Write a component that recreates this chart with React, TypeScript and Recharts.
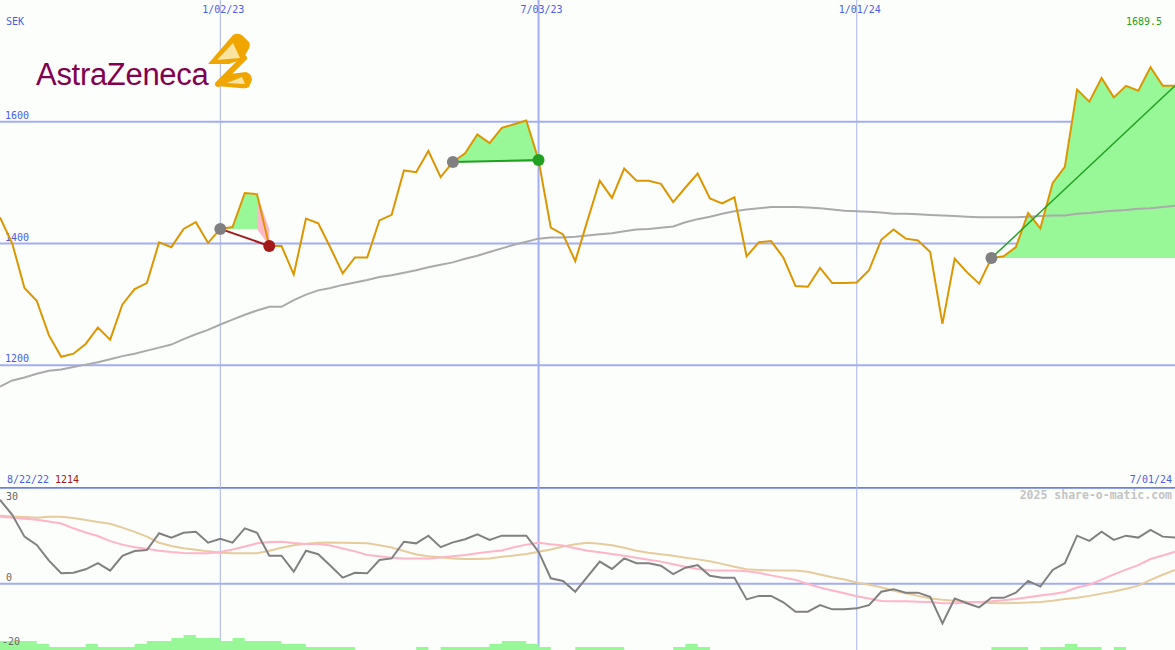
import React from 'react';
import { ComposedChart, Line, Area, XAxis, YAxis, ReferenceLine } from 'recharts';

// ---- weekly closes (SEK), index 0 = first week shown ----
const price = [
  1443, 1400, 1327, 1306, 1249, 1214, 1219, 1235, 1262, 1242,
  1300, 1325, 1335, 1402, 1394, 1424, 1435, 1401, 1424, 1427,
  1483, 1481, 1396, 1396, 1349, 1441, 1433, 1393, 1351, 1377,
  1377, 1438, 1447, 1520, 1517, 1552, 1509, 1534, 1548, 1579,
  1565, 1590, 1596, 1602, 1537, 1426, 1415, 1371, 1438, 1503,
  1475, 1523, 1503, 1503, 1498, 1468, 1492, 1515, 1474, 1466,
  1476, 1379, 1402, 1404, 1377, 1330, 1329, 1360, 1335, 1335,
  1336, 1356, 1406, 1423, 1408, 1405, 1386, 1268, 1375, 1353,
  1334, 1376, 1379, 1394, 1450, 1425, 1499, 1526, 1653, 1633,
  1672, 1640, 1659, 1651, 1689.5, 1659, 1659,
];

// long moving average
const movingAvg = [
  1165, 1175, 1180, 1186, 1191, 1193, 1197, 1201, 1205, 1210,
  1215, 1219, 1224, 1229, 1234, 1243, 1251, 1258, 1267, 1275,
  1283, 1290, 1296, 1296, 1307, 1316, 1323, 1327, 1332, 1336,
  1340, 1345, 1348, 1352, 1356, 1361, 1365, 1369, 1375, 1380,
  1386, 1392, 1398, 1403, 1408, 1410, 1410, 1411, 1413, 1415,
  1417, 1420, 1423, 1424, 1426, 1428, 1435, 1440, 1444, 1449,
  1453, 1456, 1458, 1460, 1460, 1460, 1459, 1458, 1456, 1454,
  1453, 1452, 1451, 1449, 1449, 1448, 1447, 1446, 1445, 1444,
  1443, 1443, 1443, 1443, 1444, 1445, 1446, 1446, 1449, 1450,
  1452, 1454, 1455, 1457, 1458, 1460, 1462,
];

// oscillator and its two smoothings
const oscillator = [
  26.2, 21.5, 14.7, 12.1, 7.2, 3.25, 3.4, 4.5, 6.4, 4.1,
  8.7, 10.2, 10.5, 15.75, 14.4, 15.9, 16.25, 12.8, 14, 12.8,
  17.3, 15.9, 8.75, 8.75, 3.75, 10.3, 9.2, 5.6, 1.9, 3.4,
  3.25, 7.4, 7.9, 13.1, 12.6, 15, 11.4, 12.9, 13.9, 15.4,
  13.7, 15, 15, 15, 10, 1.7, 0.85, -2.5, 2.2, 6.9,
  4.6, 7.9, 6.4, 6.4, 5.6, 3, 5, 5.8, 2.5, 1.9,
  1.9, -4.9, -3.8, -3.8, -5.8, -8.75, -8.75, -6.7, -8, -8,
  -7.7, -6.7, -2.5, -1.7, -2.8, -2.8, -4.1, -12.4, -4.6, -6.1,
  -7.4, -4.4, -4.4, -2.8, 0.9, -0.9, 4.3, 6.4, 15, 13.4,
  16.25, 13.7, 15, 14.4, 16.8, 14.7, 14.4,
];

const signalFast = [
  20.9, 20.6, 20.3, 20.0, 19.4, 18.8, 17.3, 16.0, 14.9, 13.3,
  12.2, 11.4, 10.9, 10.3, 9.9, 9.6, 9.5, 9.5, 9.9, 10.7,
  11.6, 12.6, 13.0, 13.1, 12.7, 12.4, 12.4, 11.9, 11.0, 10.1,
  9.0, 8.6, 8.1, 7.9, 7.9, 7.9, 8.2, 8.6, 9.0, 9.5,
  10.0, 10.4, 11.4, 12.2, 12.8, 12.3, 11.9, 11.1, 10.3, 9.8,
  9.3, 8.7, 8.1, 7.5, 6.9, 6.1, 5.3, 4.6, 4.2, 4.1,
  4.1, 3.9, 3.4, 2.6, 1.9, 1.2, -0.1, -1.2, -2.1, -3.0,
  -3.9, -4.6, -5.4, -5.5, -5.5, -5.6, -5.7, -6.1, -6.1, -5.9,
  -5.7, -5.5, -5.2, -4.8, -4.25, -3.7, -3.2, -2.6, -1.2, -0.3,
  1.3, 2.9, 4.4, 5.8, 7.7, 8.8, 10.0,
];

const signalSlow = [
  21.25, 21.0, 20.8, 20.6, 20.9, 20.9, 20.5, 19.9, 19.3, 18.7,
  17.5, 16.2, 14.7, 12.8, 11.8, 11.1, 10.6, 10.1, 9.7, 9.5,
  9.5, 9.5, 10.3, 11.2, 12.0, 12.5, 12.8, 12.9, 12.8, 12.7,
  12.6, 12.0, 11.3, 10.2, 9.1, 8.6, 8.3, 7.9, 7.7, 7.7,
  7.9, 8.4, 8.8, 9.3, 10.0, 10.7, 11.6, 12.3, 12.8, 12.5,
  12.0, 11.2, 10.3, 9.7, 9.2, 8.7, 8.1, 7.6, 7.0, 6.2,
  5.3, 4.5, 4.3, 4.1, 4.1, 4.1, 3.7, 2.9, 2.0, 1.3,
  0.4, -0.3, -1.1, -2.2, -3.0, -3.8, -4.6, -5.0, -5.3, -5.6,
  -5.8, -6.0, -6.1, -6.0, -5.9, -5.7, -5.3, -4.8, -4.4, -3.8,
  -3.1, -2.4, -1.6, -0.6, 1.2, 2.8, 4.3,
];

// volume blocks, one per week interval
const volume = [
  3, 3, 3, 2, 1, 1, 1, 2, 1, 1,
  1, 2, 3, 3, 4, 5, 4, 4, 3, 4,
  3, 3, 3, 2, 2, 1, 1, 1, 1, 0,
  0, 0, 0, 0, 1, 0, 1, 1, 1, 1,
  2, 3, 3, 2, 1, 0, 0, 1, 1, 1,
  1, 0, 0, 0, 0, 1, 2, 1, 0, 0,
  0, 0, 0, 0, 0, 0, 0, 0, 0, 0,
  0, 0, 0, 0, 0, 0, 0, 0, 0, 0,
  0, 1, 1, 1, 0, 1, 1, 2, 1, 1,
  0, 1, 0, 0, 0, 0, 0,
];

// trades: entry week, exit week, closed or still open
const tradeEntry = [18, 37, 81];
const tradeExit = [22, 44, 96];
const tradeClosed = [true, true, false];

// axis annotations
const dateTickIndex = [18, 44, 70];
const dateTickLabels = ['1/02/23', '7/03/23', '1/01/24'];
const priceTicks = [1600, 1400, 1200];
const oscTicks = [30, 0, -20];
const firstDate = '8/22/22';
const lastDate = '7/01/24';
const currency = 'SEK';
const credit = '2025 share-o-matic.com';

// ---- layout & colours ----
const W = 1175;
const H = 650;
const TOP_H = 487;
const LOW_H = H - TOP_H;
const LAST = price.length - 1;
const MONO = '"DejaVu Sans Mono", monospace';
const BG = '#fcfefc';
const GRID = '#a3aef2';
const SEP = '#6c7fe8';
const VTHIN = '#aab3e6';
const BLUE = '#4b5de6';
const ORANGE = '#dc9600';
const GAIN = '#98f898';
const LOSS = '#ffb8c8';
const M = { top: 0, right: 0, bottom: 0, left: 0 };

type Row = Record<string, any>;

const rows: Row[] = price.map((p, i) => {
  const row: Row = {
    i,
    price: p,
    ma: movingAvg[i],
    osc: oscillator[i],
    fast: signalFast[i],
    slow: signalSlow[i],
    vol: volume[i] ?? 0,
  };
  tradeEntry.forEach((from, t) => {
    const to = tradeExit[t];
    const e = price[from];
    const win = price[to] >= e;
    row[`trade${t}`] = i === from ? e : i === to ? price[to] : null;
    row[`gain${t}`] = null;
    row[`loss${t}`] = null;
    if (i >= from && i <= to) {
      if (win || i <= to - 1) row[`gain${t}`] = [e, Math.max(p, e)];
      if (!win && i >= to - 1) row[`loss${t}`] = [Math.min(p, e), Math.max(p, e)];
    }
  });
  return row;
});

const minPrice = Math.min(...price);
const maxPrice = Math.max(...price);

const leftLabel = (text: string, fill: string) => (props: any) => {
  const vb = props.viewBox || {};
  return (
    <text x={5} y={(vb.y ?? 0) - 3} fill={fill} fontSize={10} fontFamily={MONO}>
      {text}
    </text>
  );
};

const topLabel = (text: string) => (props: any) => {
  const vb = props.viewBox || {};
  return (
    <text x={(vb.x ?? 0) + 3} y={13} fill={BLUE} fontSize={10} fontFamily={MONO} textAnchor="middle">
      {text}
    </text>
  );
};

const oscTick = (props: any) => {
  const { y, payload } = props;
  const v = payload.value;
  const ty = Math.min(Math.max(y - 2.5, 13), LOW_H - 4);
  return (
    <text x={v < 0 ? 2 : 6} y={ty} fill="#666" fontSize={10} fontFamily={MONO}>
      {v}
    </text>
  );
};

const tradeDot = (t: number) => (props: any) => {
  const { cx, cy, index } = props;
  if (cx == null || cy == null) return <g key={`d${t}-${index}`} />;
  const from = tradeEntry[t];
  const to = tradeExit[t];
  const win = price[to] >= price[from];
  if (index === from) return <circle key={`d${t}-${index}`} cx={cx} cy={cy} r={6} fill="#808080" />;
  if (index === to && tradeClosed[t])
    return <circle key={`d${t}-${index}`} cx={cx} cy={cy} r={6} fill={win ? '#22a022' : '#a31818'} />;
  return <g key={`d${t}-${index}`} />;
};

const vLines = () =>
  dateTickIndex.map((x, k) => {
    const yearMark = dateTickLabels[k].startsWith('1/');
    return (
      <ReferenceLine
        key={`v${x}`}
        x={x}
        stroke={yearMark ? VTHIN : GRID}
        strokeWidth={yearMark ? 1 : 2}
      />
    );
  });

const Logo = () => (
  <g>
    <text
      x={36}
      y={85}
      fontFamily='"Liberation Sans", Arial, sans-serif'
      fontSize={31}
      fill="#830051"
      letterSpacing={-0.3}
    >
      AstraZeneca
    </text>
    {/* upper wing */}
    <path
      d="M208 64 L233 35 Q238 32 243 36 L249 42 Q251 46 248 50 L243 59 L229 64 Z"
      fill="#efa600"
    />
    <path d="M217 60 L233 43 L240 58 Z" fill="#fbe3a0" />
    {/* diagonal band */}
    <path d="M244 58 L218 84" stroke="#efa600" strokeWidth={6} strokeLinecap="round" />
    {/* lower wing */}
    <path
      d="M216 86 L230 74 L246 72 Q252 74 252 80 L249 87 Q246 89 240 88 Z"
      fill="#efa600"
    />
    <path d="M227 83 L242 77 L245 84 Z" fill="#fbe3a0" />
  </g>
);

export default function App() {
  return (
    <div
      style={{
        position: 'absolute',
        left: 0,
        top: 0,
        width: W,
        height: H,
        background: BG,
        overflow: 'hidden',
      }}
    >
      {/* price panel: grid */}
      <div style={{ position: 'absolute', left: 0, top: 0 }}>
        <ComposedChart width={W} height={TOP_H} data={rows} margin={M}>
          <XAxis type="number" dataKey="i" domain={[0, LAST]} hide />
          <YAxis type="number" domain={[1000, 1800]} hide />
          <Line dataKey="price" stroke="none" dot={false} activeDot={false} isAnimationActive={false} />
          {priceTicks.map((v) => (
            <ReferenceLine key={v} y={v} stroke={GRID} strokeWidth={2} label={leftLabel(String(v), BLUE)} />
          ))}
          {dateTickIndex.map((x, k) => {
            const yearMark = dateTickLabels[k].startsWith('1/');
            return (
              <ReferenceLine
                key={`v${x}`}
                x={x}
                stroke={yearMark ? VTHIN : GRID}
                strokeWidth={yearMark ? 1 : 2}
                label={topLabel(dateTickLabels[k])}
              />
            );
          })}
        </ComposedChart>
      </div>

      {/* price panel: series */}
      <div style={{ position: 'absolute', left: 0, top: 0 }}>
        <ComposedChart width={W} height={TOP_H} data={rows} margin={M}>
          <XAxis type="number" dataKey="i" domain={[0, LAST]} hide />
          <YAxis type="number" domain={[1000, 1800]} hide />
          {tradeEntry.map((_, t) => (
            <Area
              key={`g${t}`}
              dataKey={`gain${t}`}
              type="linear"
              stroke="none"
              fill={GAIN}
              fillOpacity={1}
              activeDot={false}
              isAnimationActive={false}
            />
          ))}
          {tradeEntry.map((_, t) => (
            <Area
              key={`l${t}`}
              dataKey={`loss${t}`}
              type="linear"
              stroke="none"
              fill={LOSS}
              fillOpacity={1}
              activeDot={false}
              isAnimationActive={false}
            />
          ))}
          <Line dataKey="ma" type="linear" stroke="#aaaaaa" strokeWidth={2} dot={false} activeDot={false} isAnimationActive={false} />
          <Line dataKey="price" type="linear" stroke={ORANGE} strokeWidth={2} dot={false} activeDot={false} isAnimationActive={false} />
          {tradeEntry.map((from, t) => {
            const win = price[tradeExit[t]] >= price[from];
            return (
              <Line
                key={`t${t}`}
                dataKey={`trade${t}`}
                type="linear"
                connectNulls
                stroke={win ? '#22a022' : '#a31818'}
                strokeWidth={tradeClosed[t] ? 2 : 1.5}
                dot={tradeDot(t)}
                activeDot={false}
                isAnimationActive={false}
              />
            );
          })}
        </ComposedChart>
      </div>

      {/* oscillator panel: grid */}
      <div style={{ position: 'absolute', left: 0, top: TOP_H }}>
        <ComposedChart width={W} height={LOW_H} data={rows} margin={M}>
          <XAxis type="number" dataKey="i" domain={[0, LAST]} hide />
          <YAxis type="number" domain={[-20.7, 30.2]} hide />
          <Line dataKey="osc" stroke="none" dot={false} activeDot={false} isAnimationActive={false} />
          <ReferenceLine y={0} stroke={GRID} strokeWidth={2} />
          <ReferenceLine y={30} stroke={SEP} strokeWidth={2} />
          {vLines()}
        </ComposedChart>
      </div>

      {/* oscillator panel: series */}
      <div style={{ position: 'absolute', left: 0, top: TOP_H }}>
        <ComposedChart width={W} height={LOW_H} data={rows} margin={M}>
          <XAxis type="number" dataKey="i" domain={[0, LAST]} hide />
          <YAxis yAxisId="vol" type="number" domain={[0, LOW_H / 3]} hide />
          <Area
            yAxisId="vol"
            dataKey="vol"
            type="stepAfter"
            stroke="none"
            fill={GAIN}
            fillOpacity={1}
            baseValue={0}
            activeDot={false}
            isAnimationActive={false}
          />
          <Line dataKey="slow" type="linear" stroke="#e6cc9c" strokeWidth={2} dot={false} activeDot={false} isAnimationActive={false} />
          <Line dataKey="fast" type="linear" stroke="#ffb4c8" strokeWidth={2} dot={false} activeDot={false} isAnimationActive={false} />
          <Line dataKey="osc" type="linear" stroke="#808080" strokeWidth={2} dot={false} activeDot={false} isAnimationActive={false} />
          <YAxis
            type="number"
            domain={[-20.7, 30.2]}
            ticks={oscTicks}
            interval={0}
            mirror
            axisLine={false}
            tickLine={false}
            tick={oscTick}
          />
        </ComposedChart>
      </div>

      {/* annotations */}
      <svg
        width={W}
        height={H}
        style={{ position: 'absolute', left: 0, top: 0, pointerEvents: 'none' }}
      >
        <Logo />
        <text x={6} y={25} fill={BLUE} fontSize={10} fontFamily={MONO}>
          {currency}
        </text>
        <text x={1162} y={25} fill="#22a022" fontSize={10} fontFamily={MONO} textAnchor="end">
          {String(maxPrice)}
        </text>
        <text x={7} y={483} fill={BLUE} fontSize={10} fontFamily={MONO}>
          {firstDate}
        </text>
        <text x={55} y={483} fill="#a31818" fontSize={10} fontFamily={MONO}>
          {String(minPrice)}
        </text>
        <text x={1172} y={483} fill={BLUE} fontSize={10} fontFamily={MONO} textAnchor="end">
          {lastDate}
        </text>
        <text
          x={1172}
          y={499}
          fill="#c4c4c4"
          fontSize={11.5}
          fontWeight="bold"
          fontFamily={MONO}
          textAnchor="end"
        >
          {credit}
        </text>
      </svg>
    </div>
  );
}
